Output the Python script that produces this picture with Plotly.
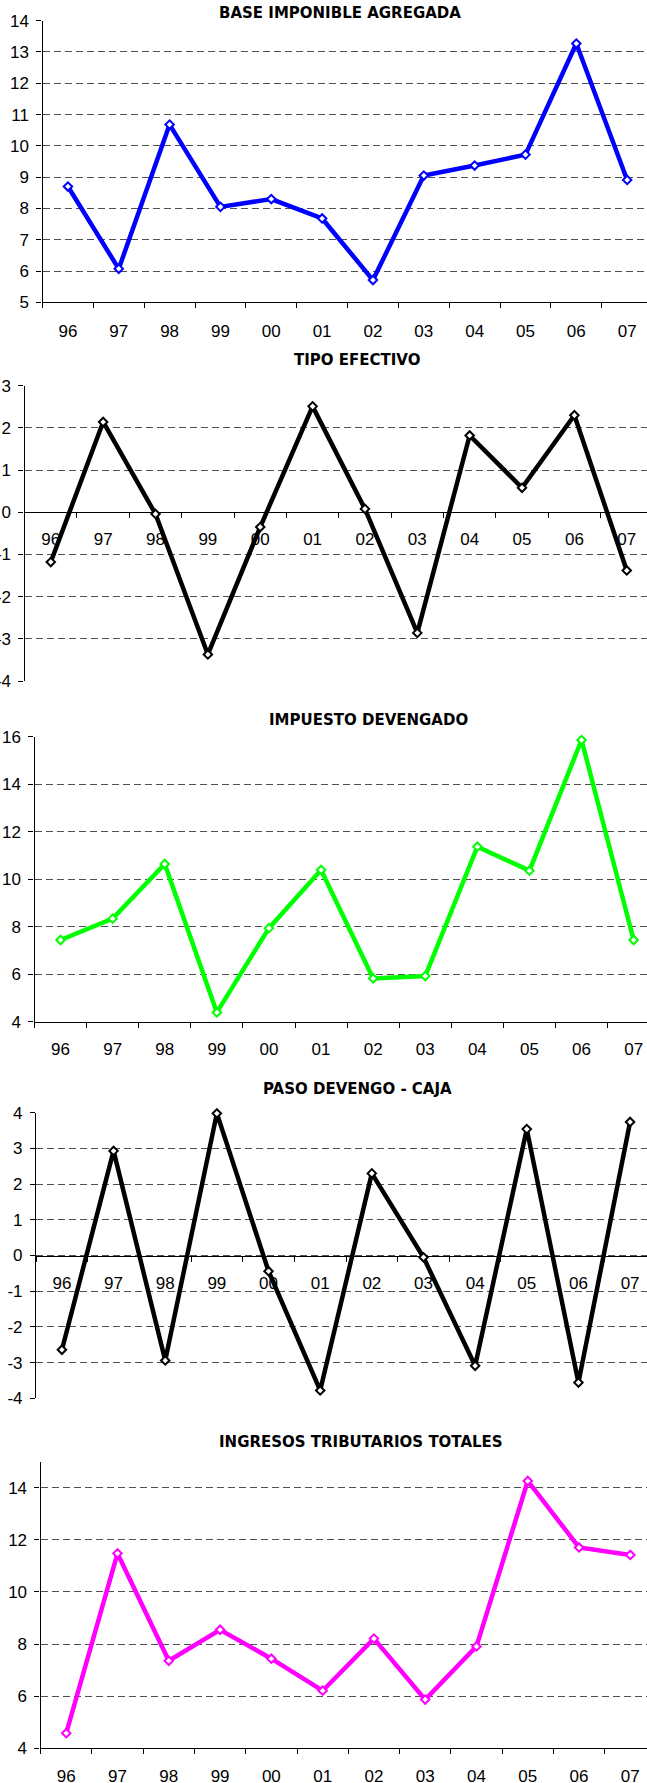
import plotly.graph_objects as go

# ---------------- data ----------------
years = ["96", "97", "98", "99", "00", "01", "02", "03", "04", "05", "06", "07"]

base_imponible = [8.70, 6.07, 10.68, 8.05, 8.30, 7.68, 5.71, 9.05, 9.37, 9.72, 13.27, 8.91]
tipo_efectivo = [-1.18, 2.14, -0.04, -3.37, -0.35, 2.51, 0.08, -2.86, 1.82, 0.58, 2.30, -1.38]
impuesto_devengado = [7.44, 8.34, 10.64, 4.39, 7.94, 10.39, 5.82, 5.92, 11.37, 10.36, 15.86, 7.44]
paso_devengo_caja = [-2.64, 2.93, -2.94, 3.98, -0.44, -3.78, 2.30, -0.05, -3.09, 3.54, -3.56, 3.74]
ingresos_totales = [4.58, 11.48, 7.36, 8.55, 7.44, 6.21, 8.21, 5.87, 7.91, 14.26, 11.71, 11.42]

titles = ["BASE IMPONIBLE AGREGADA", "TIPO EFECTIVO", "IMPUESTO DEVENGADO",
          "PASO DEVENGO - CAJA", "INGRESOS TRIBUTARIOS TOTALES"]

ticks1 = [5, 6, 7, 8, 9, 10, 11, 12, 13, 14]
ticks2 = [-4, -3, -2, -1, 0, 1, 2, 3]
ticks3 = [4, 6, 8, 10, 12, 14, 16]
ticks4 = [-4, -3, -2, -1, 0, 1, 2, 3, 4]
ticks5 = [4, 6, 8, 10, 12, 14]

series = [base_imponible, tipo_efectivo, impuesto_devengado, paso_devengo_caja, ingresos_totales]
yticks = [ticks1, ticks2, ticks3, ticks4, ticks5]
yranges = [[5, 14], [-4, 3], [4, 16], [-4, 4], [4, 15]]
colors = ["#0000FF", "#000000", "#00FF00", "#000000", "#FF00FF"]

# ---------------- layout geometry (pixels) ----------------
W, H = 647, 1783
geom = [
    dict(left=42.5, top=20.7, bottom=302.3, step=50.84, tx=340, ty=13.3, zero=False, xs=13),
    dict(left=24.6, top=385.7, bottom=681.0, step=52.36, tx=357, ty=360.0, zero=True, xs=11),
    dict(left=34.5, top=736.7, bottom=1021.7, step=52.1, tx=368.5, ty=720.0, zero=False, xs=12),
    dict(left=36.1, top=1112.7, bottom=1398.3, step=51.65, tx=357, ty=1089.3, zero=True, xs=12),
    dict(left=40.6, top=1461.7, bottom=1748.3, step=51.28, tx=361, ty=1441.7, zero=False, xs=12),
]

tick_font = dict(family="Liberation Sans, Arial, sans-serif", size=17, color="#000000")
title_font = dict(family="DejaVu Sans, Verdana, sans-serif", size=15, color="#000000")

fig = go.Figure()
layout = dict(
    width=W, height=H,
    margin=dict(l=0, r=0, t=0, b=0, autoexpand=False),
    paper_bgcolor="white", plot_bgcolor="white",
    showlegend=False,
    annotations=[],
)

for i, (vals, g) in enumerate(zip(series, geom)):
    n = i + 1
    xa = "x" if n == 1 else f"x{n}"
    ya = "y" if n == 1 else f"y{n}"
    fig.add_trace(go.Scatter(
        x=years, y=vals, xaxis=xa, yaxis=ya, mode="lines+markers",
        line=dict(color=colors[i], width=4.5),
        marker=dict(symbol="diamond", size=6.5, color="white",
                    line=dict(color=colors[i], width=2)),
        cliponaxis=False,
    ))
    ydom = [1 - g["bottom"] / H, 1 - g["top"] / H]
    xend = -0.5 + (W - g["left"]) / g["step"]
    xaxis = dict(
        domain=[g["left"] / W, 1], type="category", range=[-0.5, xend],
        showgrid=False, zeroline=False, showline=True, linecolor="#000000", linewidth=1.3,
        ticks="outside", ticklen=5, tickwidth=1.3, tickcolor="#000000",
        tickson="boundaries", tickfont=tick_font, ticklabelstandoff=g["xs"],
        layer="below traces", fixedrange=True, automargin=False,
    )
    yr = yranges[i]
    if g["zero"]:
        frac = (0 - yr[0]) / (yr[1] - yr[0])
        xaxis.update(anchor="free", position=ydom[0] + frac * (ydom[1] - ydom[0]))
    else:
        xaxis.update(anchor=ya)
    yaxis = dict(
        domain=ydom, range=yr, anchor=xa,
        tickvals=yticks[i], ticktext=[str(v) for v in yticks[i]],
        showgrid=True, gridcolor="#505050", gridwidth=1.3, griddash="7px,4px",
        zeroline=False, showline=True, linecolor="#000000", linewidth=1.3,
        ticks="outside", ticklen=5, tickwidth=1.3, tickcolor="#000000",
        tickfont=tick_font, ticklabelstandoff=4, layer="below traces", fixedrange=True,
        automargin=False,
    )
    layout["xaxis" if n == 1 else f"xaxis{n}"] = xaxis
    layout["yaxis" if n == 1 else f"yaxis{n}"] = yaxis
    layout["annotations"].append(dict(
        text=f"<b>{titles[i]}</b>", x=g["tx"] / W, y=1 - g["ty"] / H,
        xref="paper", yref="paper", xanchor="center", yanchor="middle",
        showarrow=False, font=title_font,
    ))

fig.update_layout(**layout)
fig.write_html("out.html",
               config={"displayModeBar": False},
               post_script="document.body.style.margin='0px';document.body.style.overflow='hidden';")
